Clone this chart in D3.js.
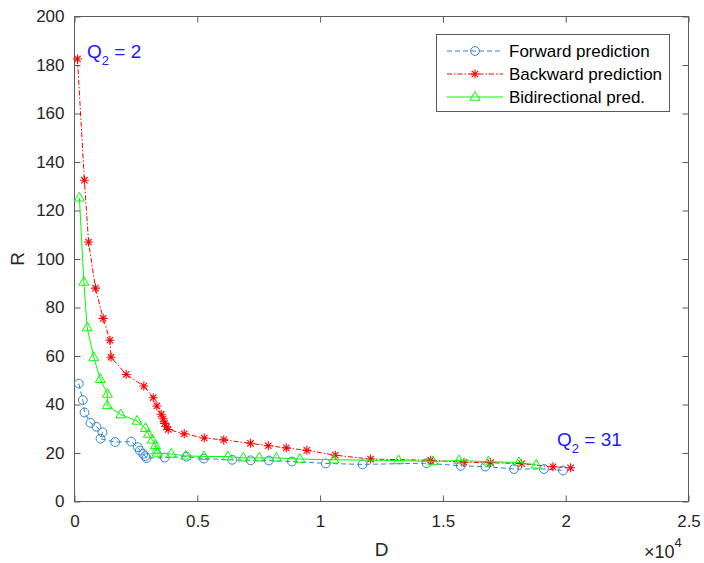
<!DOCTYPE html>
<html>
<head>
<meta charset="utf-8">
<script src="https://cdn.jsdelivr.net/npm/d3@7"></script>
<style>
  html, body { margin: 0; padding: 0; background: #fff; }
  svg { display: block; font-family: "Liberation Sans", Arial, Helvetica, sans-serif; }
</style>
</head>
<body>
<svg id="chart" width="704" height="563"></svg>
<script>
// ---- data (D in raw units, R) ----
const seriesNames = ["Forward prediction", "Backward prediction", "Bidirectional pred."];

const forwardD = [176,339,407,652,895,1141,1059,1656,2308,2579,2662,2798,2879,2932,3678,4561,5266,6421,7169,7915,8853,10231,11730,14336,15724,16730,17897,19114,19889];
const forwardR = [48.6,41.8,36.7,32.4,30.8,28.5,25.9,24.5,24.7,22.4,21.0,19.6,18.7,17.9,18.1,18.5,17.7,17.2,17.0,16.9,16.5,15.7,15.3,15.8,14.7,14.4,13.4,13.4,12.8];

const backwardD = [120,402,573,855,1167,1445,1485,2103,2823,3205,3353,3531,3612,3666,3747,3816,4468,5282,6076,7169,7889,8622,9461,10618,12056,14500,15857,16943,18206,19481,20201];
const backwardR = [182.5,132.5,107,88,75.5,66.5,59.5,52.4,47.6,42.8,39.4,36,34.1,32.2,30.8,29.7,27.9,26.2,25.4,24,23,22.1,21.1,19.1,17.5,17.0,16.2,16.0,15.6,14.3,13.9];

const bidirD = [200,380,516,785,1051,1340,1330,1886,2545,2891,3008,3169,3299,3340,3370,3937,4534,5266,6244,6871,7523,8215,9176,10561,13196,14593,15653,16851,18096,18802];
const bidirR = [125.2,90.5,71.7,59.4,50.4,44.3,39.6,35.8,33.2,30.2,27.8,25.4,23.1,21,20,19.6,18.8,18.6,18.5,18,18,18,17.5,17.2,16.9,16.5,16.9,16.4,16.1,15.1];

const xTickValues = [0,5000,10000,15000,20000,25000];
const xTickLabels = ["0","0.5","1","1.5","2","2.5"];
const yTickValues = [0,20,40,60,80,100,120,140,160,180,200];

// ---- layout ----
const svg = d3.select("#chart");
const L = 74.5, R = 688.5, T = 16.5, B = 501.5;
const x = d3.scaleLinear().domain([0, 25000]).range([L, R]);
const y = d3.scaleLinear().domain([0, 200]).range([B, T]);
const textColor = "#262626";
const lineColor = "#5a5a5a";
const tickLen = 6;

svg.append("rect").attr("width", 704).attr("height", 563).attr("fill", "#fff");

// axes with inward ticks (box on)
const gx = svg.append("g").attr("transform", `translate(0,${B})`)
  .call(d3.axisBottom(x).tickValues(xTickValues).tickFormat((d, i) => xTickLabels[i]).tickSizeInner(-tickLen).tickSizeOuter(0).tickPadding(13));
const gxTop = svg.append("g").attr("transform", `translate(0,${T})`)
  .call(d3.axisTop(x).tickValues(xTickValues).tickFormat("").tickSizeInner(-tickLen).tickSizeOuter(0));
const gy = svg.append("g").attr("transform", `translate(${L},0)`)
  .call(d3.axisLeft(y).tickValues(yTickValues).tickSizeInner(-tickLen).tickSizeOuter(0).tickPadding(10));
const gyR = svg.append("g").attr("transform", `translate(${R},0)`)
  .call(d3.axisRight(y).tickValues(yTickValues).tickFormat("").tickSizeInner(-tickLen).tickSizeOuter(0));

[gx, gxTop, gy, gyR].forEach(g => {
  g.select(".domain").remove();
  g.selectAll("line").attr("stroke", lineColor).attr("stroke-width", 1);
  g.selectAll("text").attr("fill", textColor).style("font-size", "17px").style("font-family", '"Liberation Sans", Arial, sans-serif');
});

svg.append("rect").attr("x", L).attr("y", T).attr("width", R - L).attr("height", B - T)
  .attr("fill", "none").attr("stroke", lineColor).attr("stroke-width", 1);

// axis labels
svg.append("text").attr("x", (L + R) / 2).attr("y", 556).attr("text-anchor", "middle")
  .style("font-size", "19px").attr("fill", textColor).text("D");
svg.append("text").attr("transform", `translate(24,${(T + B) / 2}) rotate(-90)`).attr("text-anchor", "middle")
  .style("font-size", "19px").attr("fill", textColor).text("R");

// exponent
const ex = svg.append("text").attr("x", 644).attr("y", 558).attr("fill", textColor).style("font-size", "18px");
ex.append("tspan").text("\u00d710");
ex.append("tspan").attr("dy", -11).style("font-size", "13px").text("4");

// ---- series ----
const line = d3.line().x(d => x(d[0])).y(d => y(d[1]));

const series = [
  { name: seriesNames[0], D: forwardD, R: forwardR, color: "#2f86cf", dash: "5,3", marker: "circle" },
  { name: seriesNames[1], D: backwardD, R: backwardR, color: "#ff0000", dash: "5,2,1.5,2", marker: "star" },
  { name: seriesNames[2], D: bidirD, R: bidirR, color: "#00ff00", dash: null, marker: "triangle" }
];

function drawMarker(g, type, color) {
  if (type === "circle") {
    g.append("circle").attr("r", 4.4).attr("fill", "none").attr("stroke", color).attr("stroke-width", 1);
  } else if (type === "star") {
    g.append("path").attr("d", "M-4.5,0L4.5,0M0,-4.5L0,4.5M-3.2,-3.2L3.2,3.2M-3.2,3.2L3.2,-3.2")
      .attr("fill", "none").attr("stroke", color).attr("stroke-width", 1.1);
  } else {
    g.append("path").attr("d", "M0,-5.5L5,3.2L-5,3.2Z").attr("fill", "none").attr("stroke", color).attr("stroke-width", 1);
  }
}

series.forEach(s => {
  const pts = s.D.map((d, i) => [d, s.R[i]]);
  svg.append("path").datum(pts).attr("d", line).attr("fill", "none")
    .attr("stroke", s.color).attr("stroke-width", 1)
    .attr("stroke-dasharray", s.dash);
  const mg = svg.append("g").selectAll("g").data(pts).join("g")
    .attr("transform", d => `translate(${x(d[0])},${y(d[1])})`);
  mg.each(function () { drawMarker(d3.select(this), s.marker, s.color); });
});

// ---- annotations ----
function qLabel(px, py, val) {
  const t = svg.append("text").attr("x", px).attr("y", py).attr("fill", "#1a1aff").style("font-size", "19px");
  t.append("tspan").text("Q");
  t.append("tspan").attr("dy", 7).style("font-size", "13px").text("2");
  t.append("tspan").attr("dy", -7).text(" = " + val);
}
qLabel(87, 58, "2");
qLabel(557, 446, "31");

// ---- legend ----
const lg = svg.append("g");
lg.append("rect").attr("x", 436.5).attr("y", 34.5).attr("width", 233).attr("height", 77)
  .attr("fill", "#fff").attr("stroke", lineColor).attr("stroke-width", 1);
series.forEach((s, i) => {
  const ry = 51 + i * 23;
  lg.append("line").attr("x1", 447).attr("x2", 503).attr("y1", ry).attr("y2", ry)
    .attr("stroke", s.color).attr("stroke-width", 1).attr("stroke-dasharray", s.dash);
  const m = lg.append("g").attr("transform", `translate(475,${ry})`);
  drawMarker(m, s.marker, s.color);
  lg.append("text").attr("x", 509).attr("y", ry + 6).attr("fill", "#000").style("font-size", "17px").text(s.name);
});
</script>
</body>
</html>
